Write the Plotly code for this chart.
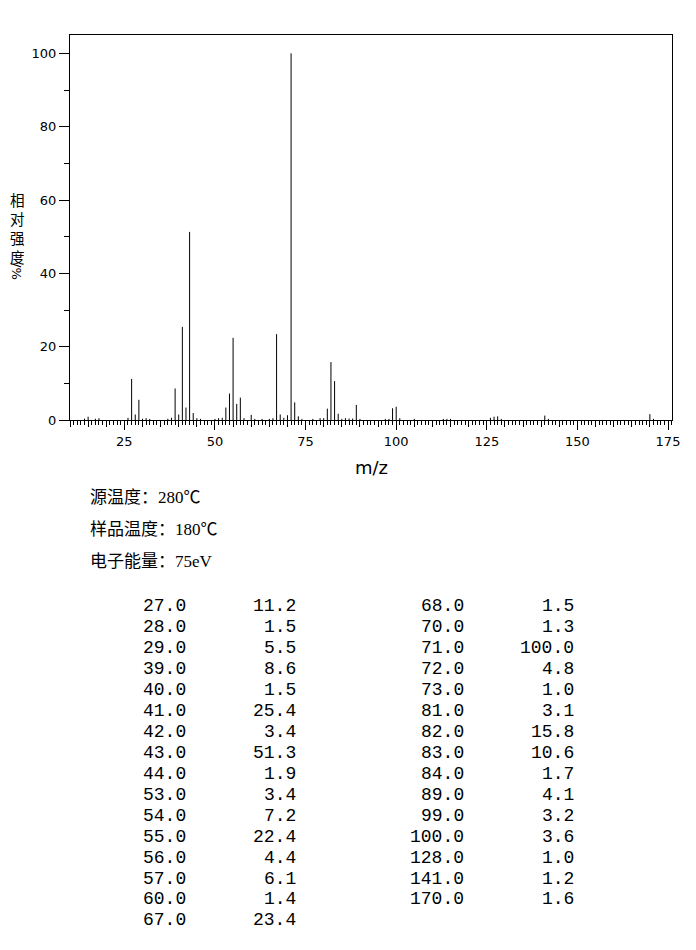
#!/usr/bin/env python3
"""Mass spectrum stick plot with peak table."""

import plotly.graph_objects as go

# peaks listed in the table (m/z, relative intensity %)
table_mz = [27, 28, 29, 39, 40, 41, 42, 43, 44, 53, 54, 55, 56, 57, 60, 67,
            68, 70, 71, 72, 73, 81, 82, 83, 84, 89, 99, 100, 128, 141, 170]
table_int = [11.2, 1.5, 5.5, 8.6, 1.5, 25.4, 3.4, 51.3, 1.9, 3.4, 7.2, 22.4,
             4.4, 6.1, 1.4, 23.4, 1.5, 1.3, 100.0, 4.8, 1.0, 3.1, 15.8, 10.6,
             1.7, 4.1, 3.2, 3.6, 1.0, 1.2, 1.6]

# weak peaks (< 1 %)
minor_mz = [14, 15, 17, 18, 26, 30, 31, 32, 37, 38, 45, 46, 50, 51, 52, 58,
            61, 63, 65, 66, 69, 74, 77, 79, 80, 85, 86, 87, 88, 90, 97, 98,
            101, 105, 113, 114, 115, 126, 127, 129, 142, 171]
minor_int = [0.35, 0.9, 0.35, 0.5, 0.6, 0.35, 0.5, 0.3, 0.35, 0.6, 0.5, 0.3,
             0.3, 0.5, 0.6, 0.5, 0.3, 0.3, 0.3, 0.5, 0.6, 0.3, 0.3, 0.5, 0.5,
             0.3, 0.5, 0.4, 0.4, 0.3, 0.3, 0.3, 0.5, 0.3, 0.3, 0.3, 0.3, 0.6,
             0.9, 0.3, 0.3, 0.3]

info_lines = ["源温度：280℃", "样品温度：180℃", "电子能量：75eV"]
ylabel_text = "相<br>对<br>强<br>度"

# page body adds a small offset; work in screenshot pixels and shift back
OFF = 8
W, H = 696 - OFF, 950 - OFF
L, R, T, B = 70, 672, 35, 420  # plot area in screenshot pixels


def px_x(x):
    return (x - L) / (R - L)


def px_y(y):
    return (B - y) / (B - T)


peaks = sorted(zip(table_mz + minor_mz, table_int + minor_int))
xs, ys = [], []
for m, v in peaks:
    xs += [m, m, None]
    ys += [0, v, None]

fig = go.Figure()
fig.add_trace(go.Scatter(x=xs, y=ys, mode="lines",
                         line=dict(color="black", width=1),
                         hoverinfo="skip", showlegend=False))
# dummy trace for the 5-unit tick axis
fig.add_trace(go.Scatter(x=[None], y=[None], xaxis="x2", showlegend=False,
                         hoverinfo="skip"))

xrange = [10, 176.1]
fig.update_layout(
    width=W, height=H,
    margin=dict(l=L - OFF, r=W - (R - OFF), t=T - OFF, b=H - (B - OFF), pad=0),
    paper_bgcolor="white", plot_bgcolor="white",
    showlegend=False,
    font=dict(family="DejaVu Sans", size=12, color="black"),
    xaxis=dict(
        range=xrange, tickmode="linear", tick0=0, dtick=25,
        ticks="outside", ticklen=9, tickwidth=1, tickcolor="black",
        showline=True, linecolor="black", linewidth=1, mirror=True,
        showgrid=False, zeroline=False,
        tickfont=dict(family="DejaVu Sans", size=13, color="black"),
        minor=dict(dtick=1, tick0=0, ticks="outside", ticklen=4,
                   tickcolor="black", tickwidth=1, showgrid=False),
    ),
    xaxis2=dict(
        range=xrange, overlaying="x", anchor="y", side="bottom",
        tickmode="linear", tick0=0, dtick=5, ticks="outside", ticklen=6,
        tickwidth=1, tickcolor="black", showticklabels=False,
        showline=False, showgrid=False, zeroline=False,
    ),
    yaxis=dict(
        range=[0, 105], tickmode="linear", tick0=0, dtick=20,
        ticks="outside", ticklen=10, tickwidth=1, tickcolor="black",
        showline=True, linecolor="black", linewidth=1, mirror=True,
        showgrid=False, zeroline=False,
        tickfont=dict(family="DejaVu Sans", size=13, color="black"),
        minor=dict(dtick=10, tick0=0, ticks="outside", ticklen=5,
                   tickcolor="black", tickwidth=1, showgrid=False),
    ),
)

ann = []
# axis titles
ann.append(dict(text="m/z", x=0.5, y=px_y(467), xref="paper", yref="paper",
                showarrow=False, xanchor="center", yanchor="middle",
                font=dict(family="DejaVu Sans", size=18)))
ann.append(dict(text=ylabel_text, x=px_x(17), y=px_y(187),
                xref="paper", yref="paper", showarrow=False,
                xanchor="center", yanchor="top",
                font=dict(family="Noto Sans CJK SC", size=14.6)))
ann.append(dict(text="/%", x=px_x(17), y=px_y(271), xref="paper",
                yref="paper", showarrow=False, textangle=90,
                xanchor="center", yanchor="middle",
                font=dict(family="DejaVu Sans", size=13)))

# instrument conditions
for i, line in enumerate(info_lines):
    ann.append(dict(text=line, x=px_x(88), y=px_y(497 + 32 * i),
                    xref="paper", yref="paper", showarrow=False,
                    xanchor="left", yanchor="middle",
                    font=dict(family="Liberation Serif, Noto Sans CJK SC",
                              size=17)))

# peak table, two column pairs
left_n = 16
mono = dict(family="Liberation Mono", size=18, color="black")
for i, (m, v) in enumerate(zip(table_mz, table_int)):
    col = 0 if i < left_n else 1
    row = i if i < left_n else i - left_n
    y = px_y(605.5 + 21 * row)
    mz_right = 188 if col == 0 else 466
    int_right = 298 if col == 0 else 576
    ann.append(dict(text=f"{m:.1f}", x=px_x(mz_right), y=y, xref="paper",
                    yref="paper", showarrow=False, xanchor="right",
                    yanchor="middle", font=mono))
    ann.append(dict(text=f"{v:.1f}", x=px_x(int_right), y=y, xref="paper",
                    yref="paper", showarrow=False, xanchor="right",
                    yanchor="middle", font=mono))

fig.update_layout(annotations=ann)

fig.write_html("out.html")
